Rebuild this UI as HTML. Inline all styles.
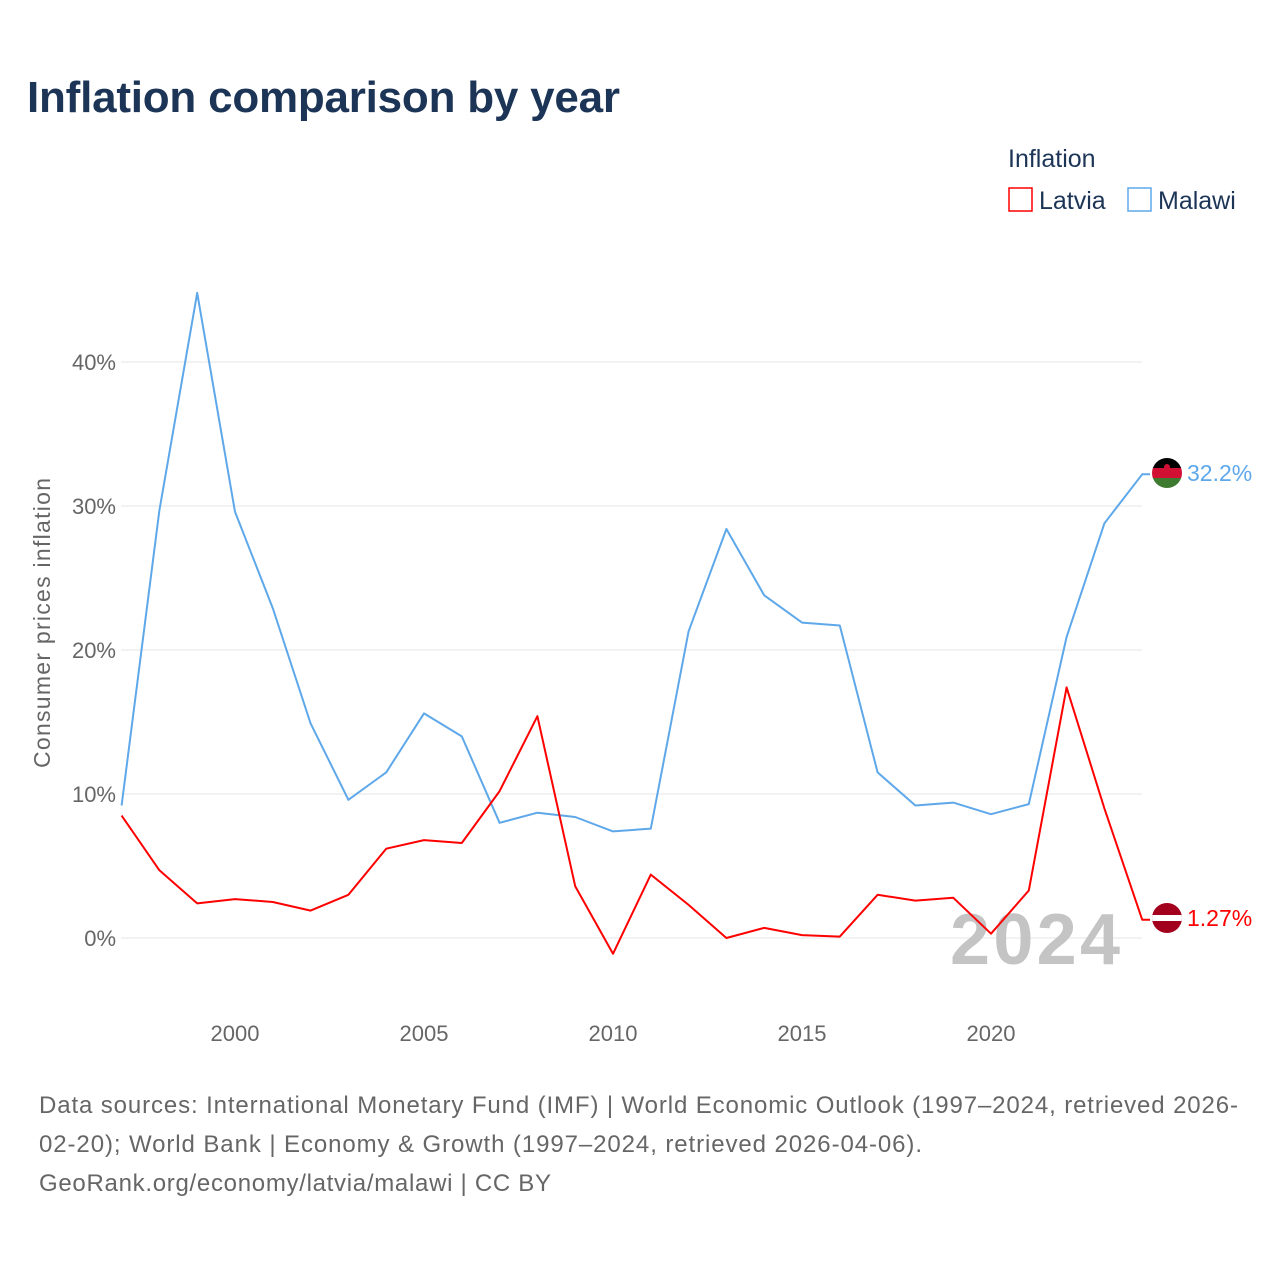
<!DOCTYPE html>
<html><head><meta charset="utf-8"><style>
body{margin:0;background:#fff;font-family:"Liberation Sans",sans-serif}
svg text{font-family:"Liberation Sans",sans-serif}
</style></head><body>
<svg width="1280" height="1280">
<rect width="1280" height="1280" fill="#fff"/>
<text x="27" y="112" font-size="44" font-weight="bold" fill="#1c3557" textLength="593">Inflation comparison by year</text>
<text x="1008" y="167" font-size="25" fill="#1c3557">Inflation</text>
<g><rect x="1009" y="188" width="23" height="23" fill="none" stroke="#ff0000" stroke-width="1.5"/><text x="1039" y="209" font-size="25" fill="#1c3557">Latvia</text></g>
<g><rect x="1128" y="188" width="23" height="23" fill="none" stroke="#5ea8ea" stroke-width="1.5"/><text x="1158" y="209" font-size="25" fill="#1c3557">Malawi</text></g>
<g id="grid"></g><g id="xt"></g>
<text x="950" y="964" font-size="72" font-weight="bold" fill="#c4c4c4" textLength="170">2024</text>
<g id="lines"></g>
<text transform="translate(50,623) rotate(-90)" text-anchor="middle" font-size="23" fill="#666" textLength="290">Consumer prices inflation</text>
<g><clipPath id="cm"><circle cx="1167" cy="473" r="15"/></clipPath><g clip-path="url(#cm)"><rect x="1150" y="456" width="34" height="12" fill="#000"/><rect x="1150" y="468" width="34" height="10" fill="#d21034"/><rect x="1150" y="478" width="34" height="12" fill="#3e7a2f"/><circle cx="1167" cy="467" r="3" fill="#d21034"/></g></g>
<g><clipPath id="cl"><circle cx="1167" cy="918" r="15"/></clipPath><g clip-path="url(#cl)"><rect x="1150" y="901" width="34" height="34" fill="#a2001d"/><rect x="1150" y="915" width="34" height="6" fill="#fff"/></g></g>
<text x="1187" y="481" font-size="23" fill="#5ea8ea">32.2%</text>
<text x="1187" y="926" font-size="23" fill="#ff0000">1.27%</text>
<text font-size="24" fill="#666"><tspan x="39" y="1113" textLength="1199">Data sources: International Monetary Fund (IMF) | World Economic Outlook (1997–2024, retrieved 2026-</tspan><tspan x="39" y="1152" textLength="883">02-20); World Bank | Economy &amp; Growth (1997–2024, retrieved 2026-04-06).</tspan><tspan x="39" y="1191" textLength="512">GeoRank.org/economy/latvia/malawi | CC BY</tspan></text>
</svg>
<script>
const years=[1997,1998,1999,2000,2001,2002,2003,2004,2005,2006,2007,2008,2009,2010,2011,2012,2013,2014,2015,2016,2017,2018,2019,2020,2021,2022,2023,2024];
const malawi=[9.2,29.7,44.8,29.6,22.9,14.9,9.6,11.5,15.6,14.0,8.0,8.7,8.4,7.4,7.6,21.3,28.4,23.8,21.9,21.7,11.5,9.2,9.4,8.6,9.3,20.9,28.8,32.2];
const latvia=[8.5,4.7,2.4,2.7,2.5,1.9,3.0,6.2,6.8,6.6,10.2,15.4,3.6,-1.1,4.4,2.3,0.0,0.7,0.2,0.1,3.0,2.6,2.8,0.3,3.3,17.4,9.0,1.27];
const yTicks=[0,10,20,30,40];
const xTicks=[2000,2005,2010,2015,2020];
const NS='http://www.w3.org/2000/svg';
const X=y=>121.6+(y-1997)*37.8;
const Y=v=>938-v*14.4;
function mk(t,a,p){const e=document.createElementNS(NS,t);for(const k in a)e.setAttribute(k,a[k]);p.appendChild(e);return e;}
const grid=document.getElementById('grid');
yTicks.forEach(v=>{
 const l=mk('line',{x1:121,x2:1142,y1:Y(v),y2:Y(v),stroke:'#e6e6e6','stroke-width':1},grid);
 
 
 const t=mk('text',{x:116,y:Y(v)+8,'text-anchor':'end','font-size':22,fill:'#666'},grid);t.textContent=v+'%';
 
 
});
const xt=document.getElementById('xt');
xTicks.forEach(y=>{const t=mk('text',{x:X(y),y:1041,'text-anchor':'middle','font-size':22,fill:'#666'},xt);t.textContent=y;
 
 });
const lines=document.getElementById('lines');
function draw(vals,col,name){
 let d=vals.map((v,i)=>(i?'L':'M')+X(years[i]).toFixed(1)+','+Y(v).toFixed(1)).join(' ');
 d+=' L1150,'+Y(vals[vals.length-1]).toFixed(1);
 const p=mk('path',{d:d,fill:'none',stroke:col,'stroke-width':2,'stroke-linejoin':'round'},lines);
 
 
}
draw(malawi,'#5ea8ea','malawi-line');
draw(latvia,'#ff0000','latvia-line');
</script>
</body></html>
